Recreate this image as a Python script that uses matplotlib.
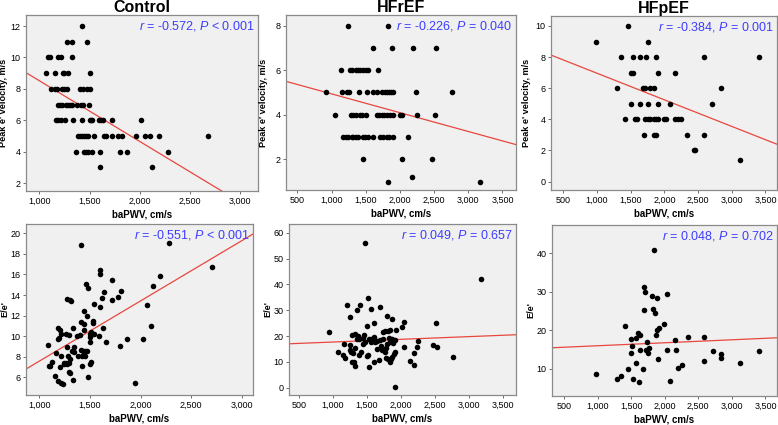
"""Scatter panels of baPWV against e' velocity and E/e' for three groups."""

import matplotlib
matplotlib.use("Agg")
import matplotlib.pyplot as plt
from matplotlib.ticker import FuncFormatter, MultipleLocator

plt.rcParams["font.family"] = ["Liberation Sans", "DejaVu Sans"]
plt.rcParams["mathtext.fontset"] = "custom"
plt.rcParams["mathtext.it"] = "Liberation Sans:italic"
plt.rcParams["mathtext.rm"] = "Liberation Sans"

# --- Control, peak e' velocity
ctrl_top_pwv = [1420,
                1271, 1324, 1477,
                1085, 1108, 1190, 1216, 1327,
                1065, 1154, 1232, 1245, 1288, 1500,
                1114, 1157, 1173, 1229, 1245, 1271, 1408, 1431, 1470, 1507,
                1186, 1209, 1229, 1268, 1288, 1307, 1324, 1373, 1418, 1438, 1497,
                1167, 1190, 1212, 1258, 1337, 1428, 1500, 1516, 1529, 1595, 1614, 1631, 1722, 2016,
                1389, 1405, 1425, 1444, 1464, 1484, 1542, 1647, 1667, 1725, 1781, 1820, 1958, 2056,
                2099, 2189, 2680,
                1369, 1444, 1464, 1484, 1523, 1608, 1804, 1869, 2281,
                1605, 2116]
ctrl_top_e = ([12] + [11] * 3 + [10] * 5 + [9] * 6 + [8] * 10 + [7] * 11 + [6] * 14
              + [5] * 17 + [4] * 9 + [3] * 2)

# --- Control, E/e'
ctrl_bot_pwv = [1413, 1600, 1600, 1716, 1465, 1477, 1642, 1810, 1777, 1719, 1616, 1268, 1300,
                1313, 1542, 1594, 1445, 1471, 1526, 1526, 1413, 1445, 1329, 1181, 1200, 1210,
                1265, 1297, 1197, 1187, 1374, 1397, 1445, 1506, 1500, 1536, 1590, 1629, 1503,
                1503, 1658, 1861, 2020, 1797, 1081, 1268, 1339, 1165, 1339, 1377, 1410, 1429,
                1449, 1468, 1455, 1416, 1284, 1210, 1306, 1323, 1245, 1258, 1274, 1290, 1239,
                1200, 1092, 1105, 1128, 1423, 1500, 1506, 1158, 1187, 1210, 1229, 1329, 1477,
                1290, 1306, 1948, 2066, 2099, 2125, 2188, 2280, 2700]
ctrl_bot_ee = [18.9, 16.4, 16.0, 15.5, 15.1, 14.7, 14.3, 14.4, 13.8, 13.5, 13.7, 13.6, 13.5,
               13.4, 13.1, 12.8, 12.5, 12.0, 11.5, 11.3, 11.4, 11.2, 10.8, 10.8, 10.6, 10.2,
               10.2, 10.1, 9.8, 9.7, 10.0, 10.1, 10.6, 10.4, 10.2, 10.2, 10.0, 10.8, 9.9,
               9.4, 9.4, 9.7, 9.7, 9.1, 9.2, 9.0, 9.0, 8.4, 8.5, 8.1, 8.7, 8.55,
               8.55, 8.55, 8.1, 8.1, 8.1, 8.1, 7.8, 8.6, 7.4, 7.45, 7.3, 7.4, 7.3,
               7.0, 7.1, 7.1, 7.5, 7.15, 7.3, 7.55, 6.1, 5.65, 5.5, 5.4, 5.8, 6.05,
               6.5, 6.4, 5.5, 13.0, 11.0, 14.9, 15.9, 19.1, 16.7]

# --- HFrEF, peak e' velocity
hfr_top_pwv = [1244, 1829,
               1610, 1878, 2190, 2527,
               1137, 1268, 1293, 1351, 1380, 1415, 1463, 1502, 1537, 1683,
               922, 1156, 1220, 1259, 1395, 1512, 1600, 1668, 1732, 1785, 1815, 1844, 1873, 1902,
               2239, 2756,
               1054, 1283, 1317, 1356, 1415, 1444, 1507, 1668, 1698, 1732, 1766, 1815, 1854, 1902,
               2000, 2024, 2244, 2512,
               1171, 1205, 1244, 1293, 1317, 1356, 1390, 1454, 1488, 1537, 1600, 1707, 1756, 1805,
               1844, 1893, 2112,
               1454, 2034, 2463,
               2176,
               1820, 3170]
hfr_top_e = ([8] * 2 + [7] * 4 + [6] * 10 + [5] * 16 + [4] * 18 + [3] * 17 + [2] * 3
             + [1.2] + [1] * 2)

# --- HFrEF, E/e'
hfr_bot_pwv = [1472, 1520, 1204, 1394, 1350, 1559, 1690, 1253, 1797, 1865, 1608, 1500, 2050,
               2021, 942, 1768, 1812, 1846, 1924, 1282, 1321, 1365, 1452, 1438, 1389, 1525,
               1559, 1613, 1642, 1700, 1739, 1826, 1870, 1909, 1836, 1802, 1705, 1160, 1258,
               1438, 1073, 1156, 1185, 1248, 1267, 1292, 1306, 1321, 1282, 1379, 1413, 1510,
               1535, 1603, 1671, 1720, 1763, 1817, 1836, 1788, 1856, 1875, 1904, 1919, 2040,
               1919, 2128, 2191, 2195, 2235, 2250, 2470, 2533, 2517, 2760, 3173,
               1480, 1560, 1650, 1330, 1730, 1600, 1360, 1780, 1500, 1880]
hfr_bot_ee = [56.2, 34.7, 32.1, 32.1, 30.2, 30.6, 31.2, 27.2, 27.8, 26.6, 25.1, 23.7, 25.3,
              23.6, 21.4, 21.8, 22.0, 22.4, 22.4, 20.3, 20.9, 20.0, 20.5, 19.3, 18.7, 18.9,
              18.8, 17.6, 18.1, 18.3, 18.8, 19.3, 18.9, 18.5, 17.6, 17.0, 16.1, 17.0, 16.7,
              17.0, 13.9, 12.8, 11.4, 14.5, 13.7, 13.5, 10.1, 8.3, 9.8, 12.8, 13.7, 12.7,
              7.9, 10.0, 10.8, 14.6, 14.0, 11.0, 10.1, 11.4, 11.1, 11.8, 13.0, 13.7, 15.7,
              0.1, 10.5, 8.8, 13.3, 15.9, 18.0, 16.6, 15.9, 25.0, 11.8, 42.2,
              17.8, 17.5, 15.0, 15.5, 21.5, 19.5, 19.0, 15.2, 12.3, 17.2]

# --- HFpEF, peak e' velocity
hfp_top_pwv = [1454,
               985, 1760,
               1355, 1533, 1631, 1725, 1878, 2587, 3401,
               1503, 1533, 1908, 2150,
               1296, 1681, 1705, 1779, 1844, 2834,
               1503, 1636, 1750, 1908, 2080, 2710,
               1414, 1567, 1597, 1715, 1755, 1784, 1839, 1868, 1903, 1987, 2017, 2159, 2199, 2251,
               1700, 1839, 1868, 2335, 2595,
               2439, 2450,
               3120]
hfp_top_e = ([10] + [9] * 2 + [8] * 7 + [7] * 4 + [6] * 6 + [5] * 6 + [4] * 14 + [3] * 5
             + [2] * 2 + [1.4])

# --- HFpEF, E/e'
hfp_bot_pwv = [1842, 1693, 1703, 1817, 1886, 2040, 1698, 1832, 1861, 1411, 1995, 1911, 1881,
               1876, 1599, 1639, 1574, 1500, 1743, 1772, 2149, 2173, 2040, 1629, 1520, 1500,
               1718, 1755, 1569, 1901, 1683, 1450, 2262, 2198, 975, 1292, 1356, 1530, 1619,
               2074, 2589, 2340, 2589, 2714, 2838, 2838, 3124, 3406]
hfp_bot_ee = [40.9, 31.2, 29.9, 29.0, 28.4, 29.5, 25.3, 25.6, 24.4, 21.2, 21.6, 20.6, 20.2,
              18.9, 19.4, 18.9, 17.9, 17.7, 17.0, 15.5, 17.4, 14.9, 15.0, 15.0, 15.8, 14.1,
              15.0, 14.0, 11.6, 12.4, 10.0, 9.8, 10.9, 10.3, 8.5, 7.4, 8.0, 7.2, 6.5,
              6.7, 18.2, 18.3, 12.1, 14.6, 13.7, 12.7, 11.6, 14.6]

# fit lines: (intercept, slope)
fit_lines = [(12.39, -0.00387), (5.78, -0.000844), (8.67, -0.001708),
             (1.74, 0.00585), (16.62, 0.00105), (15.2, 0.000776)]
stats_text = [r"$\it{r}$ = -0.572, $\it{P}$ < 0.001",
              r"$\it{r}$ = -0.226, $\it{P}$ = 0.040",
              r"$\it{r}$ = -0.384, $\it{P}$ = 0.001",
              r"$\it{r}$ = -0.551, $\it{P}$ < 0.001",
              r"$\it{r}$ = 0.049, $\it{P}$ = 0.657",
              r"$\it{r}$ = 0.048, $\it{P}$ = 0.702"]
titles = ["Control", "HFrEF", "HFpEF"]

W, H = 778, 425
# panel boxes in pixels: left, top, right, bottom
boxes = [(26, 15, 258, 191), (286, 15, 516, 190), (551, 16, 777, 190),
         (26, 224, 253, 395), (289, 224, 516, 395), (552, 225, 777, 396)]
ylabel_x = [8, 268, 531, 9, 272, 535]  # pixel column of the y-label centre
xlims = [(868, 3175), (332, 3698), (317, 3671), (868, 3109), (358, 3688), (322, 3672)]
ylims = [(1.5, 12.7), (0.62, 8.48), (-0.54, 10.64), (4.3, 20.9), (-2.85, 63.4), (2.9, 47.4)]
xticks = [range(1000, 3001, 500), range(500, 3501, 500), range(500, 3501, 500)] * 2
ysteps = [2, 2, 2, 2, 10, 10]
ylabels = ["Peak e' velocity, m/s"] * 3 + ["E/e'"] * 3

data = [(ctrl_top_pwv, ctrl_top_e), (hfr_top_pwv, hfr_top_e), (hfp_top_pwv, hfp_top_e),
        (ctrl_bot_pwv, ctrl_bot_ee), (hfr_bot_pwv, hfr_bot_ee), (hfp_bot_pwv, hfp_bot_ee)]

fig = plt.figure(figsize=(W / 100, H / 100), dpi=100)
comma = FuncFormatter(lambda v, p: f"{v:,.0f}")

for i, (xs, ys) in enumerate(data):
    l, t, r, b = boxes[i]
    ax = fig.add_axes([l / W, 1 - b / H, (r - l) / W, (b - t) / H])
    ax.set_facecolor("#f0f0f0")
    for s in ax.spines.values():
        s.set_color("#8a8a8a")
        s.set_linewidth(0.9)
    ax.scatter(xs, ys, s=16, color="black", linewidths=0, zorder=3)
    a, k = fit_lines[i]
    x0, x1 = xlims[i]
    ax.plot([x0, x1], [a + k * x0, a + k * x1], color="#e8473f", lw=0.9, zorder=2)
    ax.set_xlim(xlims[i])
    ax.set_ylim(ylims[i])
    ax.set_xticks(list(xticks[i]))
    ax.xaxis.set_major_formatter(comma)
    ax.yaxis.set_major_locator(MultipleLocator(ysteps[i]))
    ax.yaxis.set_major_formatter(FuncFormatter(lambda v, p: f"{v:.0f}"))
    ax.tick_params(labelsize=6.5, length=2.5, width=0.6, color="#555555", pad=1.5)
    ax.set_xlabel("baPWV, cm/s", fontsize=7, fontweight="bold", labelpad=3)
    ax.set_ylabel(ylabels[i], fontsize=6.6, fontweight="bold")
    ax.yaxis.set_label_coords((ylabel_x[i] - l) / (r - l), 0.5)
    ax.text(0.985, 0.975, stats_text[i], transform=ax.transAxes, ha="right", va="top",
            fontsize=9, color="#3d3dff")
    if i < 3:
        ax.set_title(titles[i], fontsize=11.5, fontweight="bold", pad=2)

fig.savefig("out.png", dpi=100)
